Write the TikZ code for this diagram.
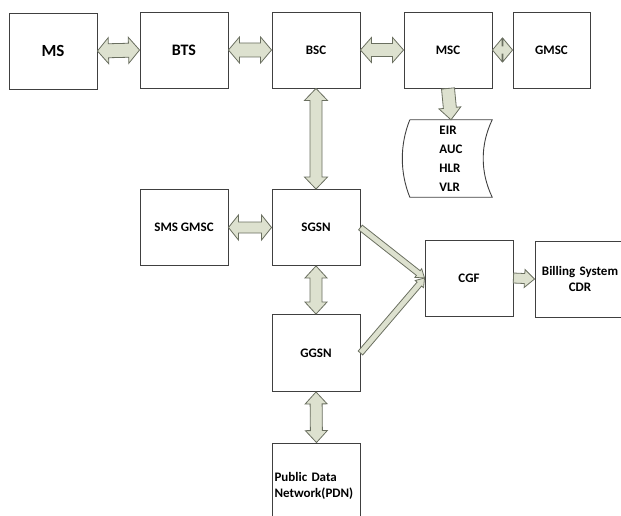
\documentclass[tikz,border=0pt]{standalone}
\usepackage{fontspec}
\setmainfont{Carlito}
\usepackage{xcolor}
\usepackage{tikz}
\usetikzlibrary{calc}

\definecolor{boxline}{HTML}{404040}
\definecolor{arrfill}{HTML}{DDE1CF}
\definecolor{arrline}{HTML}{6A6F60}

% block arrows: from, to, shaft half width, head half width, head length
\newcommand{\dblarrow}[5]{%
  \coordinate (ta) at (#1);
  \coordinate (tb) at (#2);
  \coordinate (ha) at ($(ta)!#5!(tb)$);
  \coordinate (hb) at ($(tb)!#5!(ta)$);
  \draw[blk] (ta) -- ($(ha)!#4!90:(tb)$) -- ($(ha)!#3!90:(tb)$)
    -- ($(hb)!#3!-90:(ta)$) -- ($(hb)!#4!-90:(ta)$) -- (tb)
    -- ($(hb)!#4!90:(ta)$) -- ($(hb)!#3!90:(ta)$)
    -- ($(ha)!#3!-90:(tb)$) -- ($(ha)!#4!-90:(tb)$) -- cycle;
}
\newcommand{\onearrow}[5]{%
  \coordinate (ta) at (#1);
  \coordinate (tb) at (#2);
  \coordinate (hb) at ($(tb)!#5!(ta)$);
  \draw[blk] ($(ta)!#3!90:(tb)$) -- ($(hb)!#3!-90:(ta)$) -- ($(hb)!#4!-90:(ta)$)
    -- (tb) -- ($(hb)!#4!90:(ta)$) -- ($(hb)!#3!90:(ta)$)
    -- ($(ta)!#3!-90:(tb)$) -- cycle;
}

\begin{document}
\begin{tikzpicture}[
            x=1pt, y=-1pt,
            every node/.style={font=\bfseries\fontsize{13}{16}\selectfont},
            box/.style={draw=boxline, line width=0.9pt, minimum width=88pt, minimum height=76pt, inner sep=2pt},
            blk/.style={draw=arrline, fill=arrfill, line width=0.8pt, line join=miter},
        ]
            \useasboundingbox (0,0) rectangle (621,516);
            % top row
            \node[box, font=\bfseries\fontsize{17}{20}\selectfont] (ms) at (53,51) {MS};
            \node[box, font=\bfseries\fontsize{16}{19}\selectfont] (bts) at (184,50) {BTS};
            \node[box] (bsc) at (316,50) {BSC};
            \node[box] (msc) at (448,50) {MSC};
            \node[box, minimum width=77pt] (gmsc) at (551.5,50) {GMSC};
            % databases
            \node[minimum width=82pt, minimum height=77pt, inner sep=0pt, align=left,
                  font=\bfseries\fontsize{13}{19}\selectfont] (db) at (451,158.5) {EIR\\AUC\\HLR\\VLR};
            \draw[draw=boxline, line width=0.9pt] (db.north west) -- (db.north east)
                .. controls +(-12,25) and +(-12,-25) .. (db.south east) -- (db.south west)
                .. controls +(-10,-25) and +(-10,25) .. (db.north west);
            % packet part
            \node[box] (smsc) at (184,227.5) {SMS GMSC};
            \node[box] (sgsn) at (316,227.5) {SGSN};
            \node[box, minimum height=77pt] (ggsn) at (316,353) {GGSN};
            \node[box, minimum height=86pt, text width=84pt, align=left] (pdn) at (316.5,486) {Public Data\\Network(PDN)\\[10pt]};
            \node[box] (cgf) at (469,278) {CGF};
            \node[box, minimum width=100pt, text width=88pt, align=center] (bill) at (585,279) {\hspace*{-10pt}Billing System\\\hspace*{-10pt}CDR};
            % connectors
            \dblarrow{ms.east}{bts.west}{7pt}{13pt}{11pt}
            \dblarrow{bts.east}{bsc.west}{7pt}{13pt}{11pt}
            \dblarrow{bsc.east}{msc.west}{6.5pt}{12.5pt}{11pt}
            \dblarrow{msc.east}{gmsc.west}{4pt}{11.5pt}{9.5pt}
            \onearrow{msc.south}{db.north}{6.5pt}{11pt}{12pt}
            \dblarrow{bsc.south}{sgsn.north}{6pt}{11.5pt}{12pt}
            \dblarrow{smsc.east}{sgsn.west}{5.5pt}{12.5pt}{10pt}
            \dblarrow{sgsn.south}{ggsn.north}{6pt}{11pt}{12pt}
            \dblarrow{ggsn.south}{pdn.north}{6pt}{11pt}{12pt}
            \onearrow{sgsn.east}{cgf.west}{3pt}{5.5pt}{8pt}
            \onearrow{ggsn.east}{cgf.west}{3pt}{5.5pt}{8pt}
            \onearrow{cgf.east}{bill.west}{5pt}{9pt}{10pt}
        \end{tikzpicture}
\end{document}
